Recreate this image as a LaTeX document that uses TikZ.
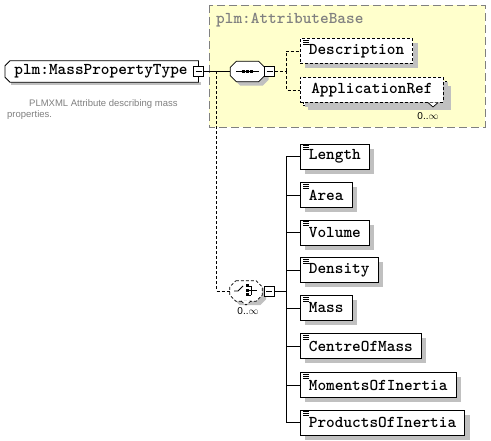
\documentclass[tikz,border=0pt]{standalone}
\usepackage{fontspec}
\setmainfont{Liberation Sans}
\usetikzlibrary{shapes.misc,shadows,calc}
\definecolor{shadowgray}{HTML}{C0C0C0}
\definecolor{titlegray}{HTML}{808080}
\definecolor{groupyellow}{HTML}{FFFFCC}
\newcommand{\octopath}[2]{% node name, chamfer
  ($(#1.north west)+(#2,0)$) -- ($(#1.north east)+(-#2,0)$) -- ($(#1.north east)+(0,#2)$) -- ($(#1.south east)+(0,-#2)$) -- ($(#1.south east)+(-#2,0)$) -- ($(#1.south west)+(#2,0)$) -- ($(#1.south west)+(0,-#2)$) -- ($(#1.north west)+(0,#2)$) -- cycle}
\newcommand{\shadowoctopath}[2]{%
  ($(#1.north west)+(#2+4,4)$) -- ($(#1.north east)+(-#2+4,4)$) -- ($(#1.north east)+(4,#2+4)$) -- ($(#1.south east)+(4,-#2+4)$) -- ($(#1.south east)+(-#2+4,4)$) -- ($(#1.south west)+(#2+4,4)$) -- ($(#1.south west)+(4,-#2+4)$) -- ($(#1.north west)+(4,#2+4)$) -- cycle}
\begin{document}
\begin{tikzpicture}[x=1pt,y=-1pt,
  shade/.style={drop shadow={shadow xshift=5pt,shadow yshift=-5pt,fill=shadowgray,opacity=1}},
  monofont/.style={font=\ttfamily\bfseries\fontsize{16.5}{18}\selectfont},
  elem/.style={draw,fill=white,line width=0.8pt,minimum height=25pt,inner xsep=8.5pt,inner ysep=0pt,anchor=west,monofont,shade},
  optelem/.style={elem,dashed,dash pattern=on 3pt off 2pt},
  minusbox/.style={draw,fill=white,line width=0.7pt,minimum size=10pt,inner sep=0pt},
  conn/.style={line width=0.8pt},
  dconn/.style={line width=0.8pt,dash pattern=on 3pt off 2pt},
  occ/.style={font=\fontsize{10}{11}\selectfont,inner sep=0pt},
  note/.style={font=\fontsize{9.5}{11}\selectfont,text=titlegray,inner sep=0pt,anchor=west}
]
\useasboundingbox (0,0) rectangle (491,441);
\fill[white] (0,0) rectangle (491,441);

% group box
\draw[fill=groupyellow,draw=titlegray,line width=0.9pt,dash pattern=on 8pt off 4pt] (209,5) rectangle (485,127);
\node[monofont,text=titlegray,anchor=west,inner sep=0pt] (grouptitle) at (216,20) {plm:AttributeBase};

% main type node
\node[minimum width=193pt,minimum height=21pt,inner sep=0pt,anchor=west] (main) at (5,71.5) {};
\fill[shadowgray] ($(main.south west)+(6,0)$) rectangle ($(main.south east)+(3,3)$);
\draw[fill=white,line width=0.8pt] ($(main.north west)+(5,0)$) -- (main.north east) -- (main.south east) -- ($(main.south west)+(5,0)$) -- ($(main.south west)+(0,-5)$) -- ($(main.north west)+(0,5)$) -- cycle;
\node[monofont,inner sep=0pt] (maintext) at (101,71.5) {plm:MassPropertyType};
\node[minusbox] (mainminus) at (198.5,71.5) {};
\draw[line width=0.7pt] ($(mainminus.center)+(-3,0)$) -- ($(mainminus.center)+(3,0)$);

\node[note] (desc1) at (29,104) {PLMXML Attribute describing mass};
\node[note] (desc2) at (7,115) {properties.};

% sequence compositor
\node[minimum width=34pt,minimum height=20pt,inner sep=0pt] (seq) at (247.5,71.5) {};
\fill[shadowgray] \shadowoctopath{seq}{6};
\draw[fill=white,line width=0.8pt] \octopath{seq}{6};
\draw[line width=0.8pt] (236,71.5) -- (259,71.5);
\foreach \xx in {243.5,247.5,251.5} \fill (\xx-1.5,70) rectangle (\xx+1.5,73);
\node[minusbox] (seqminus) at (269.5,71.5) {};
\draw[line width=0.7pt] ($(seqminus.center)+(-3,0)$) -- ($(seqminus.center)+(3,0)$);

% attribute-base children
\node[optelem] (descr) at (300,51) {Description};
\node[draw,fill=white,line width=0.8pt,dash pattern=on 3pt off 2pt,minimum width=143pt,minimum height=24pt,anchor=west,shade] (appback) at (303,93) {};
\node[optelem,minimum width=143pt,drop shadow={opacity=0}] (appref) at (300,90) {ApplicationRef};
\draw[line width=0.7pt,fill=white] (428,102.6) -- (433,107) -- (438,102.6);
\node[occ] (appocc) at (428,116) {0..$\infty$};

% choice compositor
\node[minimum width=32pt,minimum height=20pt,inner sep=0pt] (choice) at (246,291) {};
\fill[shadowgray] \shadowoctopath{choice}{6};
\draw[fill=white,line width=0.8pt,dash pattern=on 3pt off 2pt] \octopath{choice}{6};
\draw[line width=0.7pt,dash pattern=on 3pt off 2pt,fill=white] (241,301) -- (246,305) -- (251,301);
\draw[line width=0.8pt] (234,291) -- (238,291) -- (243,286);
\foreach \yy in {286,290.5,295} {\fill (245.5,\yy-1.5) rectangle (248.5,\yy+1.5); \draw[line width=0.7pt] (248.5,\yy) -- (251,\yy);}
\draw[line width=0.7pt] (251,286) -- (251,295);
\draw[line width=0.8pt] (251,290.5) -- (257,290.5);
\node[minusbox] (choiceminus) at (269,291) {};
\draw[line width=0.7pt] ($(choiceminus.center)+(-3,0)$) -- ($(choiceminus.center)+(3,0)$);
\node[occ] (choiceocc) at (248,311) {0..$\infty$};

% choice children
\node[elem] (e1) at (300,156.5) {Length};
\node[elem] (e2) at (300,195) {Area};
\node[elem] (e3) at (300,232.5) {Volume};
\node[elem] (e4) at (300,270) {Density};
\node[elem] (e5) at (300,308) {Mass};
\node[elem] (e6) at (300,346) {CentreOfMass};
\node[elem] (e7) at (300,385) {MomentsOfInertia};
\node[elem] (e8) at (300,422.5) {ProductsOfInertia};

% element icons
\foreach \n in {descr,e1,e2,e3,e4,e5,e6,e7,e8}
  \foreach \d in {2,4,6}
    \draw[line width=0.6pt] ($(\n.north west)+(3,\d)$) -- ($(\n.north west)+(8.5,\d)$);

% connectors
\draw[conn] (mainminus.east) -- (seq.west);
\coordinate (bendA) at (216,71.5);
\coordinate (bendB) at (216,291);
\draw[dconn] (bendA) -- (bendB) -- (choice.west);
\coordinate (sj) at (286,71.5);
\draw[dconn] (seqminus.east) -- (sj);
\draw[dconn] (sj) |- (descr.west);
\draw[dconn] (sj) |- (appref.west);
\coordinate (cj) at (286,291);
\draw[conn] (choiceminus.east) -- (cj);
\coordinate (ctop) at (286,156.5);
\coordinate (cbot) at (286,422.5);
\draw[conn] (ctop) -- (cbot);
\foreach \n in {e1,e2,e3,e4,e5,e6,e7,e8}
  \draw[conn] (\n.west -| cj) -- (\n.west);
\end{tikzpicture}
\end{document}
